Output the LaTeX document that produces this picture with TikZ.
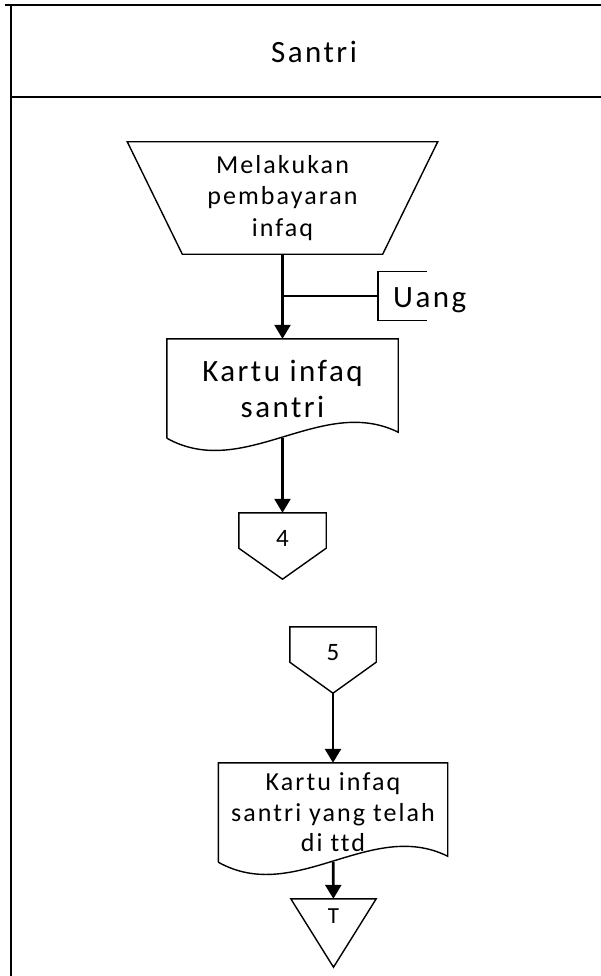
\documentclass[tikz,border=0pt]{standalone}
\usepackage{fontspec}
\setmainfont{Carlito}[LetterSpace=8,Ligatures={NoCommon}]
\usetikzlibrary{arrows.meta}

\tikzset{
	box/.style={rectangle,inner sep=0pt,align=center},
	outline/.style={line width=1.4pt},
	lane/.style={line width=2pt},
	flow/.style={-{Triangle[width=16pt,length=14pt]},line width=2.6pt},
}

\newcommand{\trapoutline}[1]{%
	\draw[outline] (#1.north west) -- (#1.north east) -- ([xshift=-55pt]#1.south east) -- ([xshift=55pt]#1.south west) -- cycle;}
\newcommand{\docoutline}[1]{%
	\draw[outline] (#1.south west) -- (#1.north west) -- (#1.north east) -- ([yshift=6pt]#1.south east)
		.. controls +(-77pt,38pt) and +(77pt,-43pt) .. (#1.south west);}
\newcommand{\pageoutline}[1]{%
	\draw[outline] (#1.north west) -- (#1.north east) -- ([yshift=31pt]#1.south east) -- (#1.south) -- ([yshift=31pt]#1.south west) -- cycle;}
\newcommand{\termoutline}[1]{%
	\draw[outline] (#1.north west) -- (#1.north east) -- (#1.south) -- cycle;}

\begin{document}
\begin{tikzpicture}[x=1pt,y=-1pt]
	\useasboundingbox (0,0) rectangle (601,976);

	\draw[lane] (5,5) -- (601,5);
	\draw[lane] (11,5) -- (11,976);
	\draw[lane] (11,97) -- (601,97);
	\node (lanetitle) at (314,52) {\fontsize{31}{36}\selectfont Santri};

	\begin{scope}[every node/.style={box}]
	\node (trap) at (282.5,198) [minimum width=310pt, minimum height=112pt, font=\fontsize{26}{31.5}\selectfont] {Melakukan\\pembayaran\\infaq};

	\node (doc1) at (282.5,388.5) [minimum width=231pt, minimum height=99pt, font=\fontsize{31}{36}\selectfont] {Kartu infaq\\santri};

	\node (c4) at (282.5,546) [minimum width=87pt, minimum height=66pt, text height=8pt, text depth=8pt, font=\fontsize{25}{30}\selectfont] {4};

	\node (c5) at (333,660) [minimum width=86pt, minimum height=66pt, text height=8pt, text depth=8pt, font=\fontsize{25}{30}\selectfont] {5};

	\node (doc2) at (333,812.5) [minimum width=229pt, minimum height=99pt, font=\fontsize{26}{30.5}\selectfont] {Kartu infaq\\santri yang telah\\di ttd};

	\node (term) at (333.5,933) [minimum width=85pt, minimum height=68pt, text height=6pt, text depth=26pt, font=\fontsize{23}{27}\selectfont] {T};

	\node (uang) [anchor=base west] at (393,307) {\fontsize{31}{36}\selectfont Uang};
	\end{scope}
	\coordinate (uangtag) at (378,296);

	\trapoutline{trap}
	\docoutline{doc1}
	\pageoutline{c4}
	\pageoutline{c5}
	\docoutline{doc2}
	\termoutline{term}

	\draw[outline] ([xshift=49pt,yshift=24.5pt]uangtag) -- ([yshift=24.5pt]uangtag) -- ([yshift=-24.5pt]uangtag) -- ([xshift=49pt,yshift=-24.5pt]uangtag);
	\draw[outline] (uangtag) -- (uangtag -| trap.south);

	\path [flow] (trap) edge (doc1);
	\path [flow] (doc1) edge (c4);
	\path [flow] (c5) edge (doc2);
	\path [flow] (doc2) edge (term);

\end{tikzpicture}
\end{document}
